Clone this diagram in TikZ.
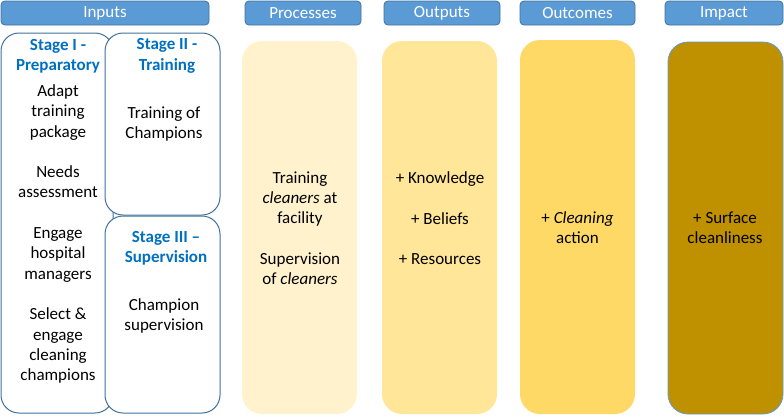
\documentclass[tikz,border=0pt]{standalone}
\usepackage{fontspec}
\setmainfont{Carlito}
\usetikzlibrary{positioning}

\definecolor{hdrblue}{HTML}{5B9BD5}
\definecolor{hdrline}{HTML}{41719C}
\definecolor{stageblue}{HTML}{0070C0}
\definecolor{procfill}{HTML}{FFF2CC}
\definecolor{outfill}{HTML}{FFE699}
\definecolor{outcfill}{HTML}{FFD966}
\definecolor{impfill}{HTML}{BF9000}

\tikzset{
  txt/.style={font=\fontsize{17}{20.3}\selectfont, align=center, text=black, inner sep=0pt},
  header/.style={txt, text=white, fill=hdrblue, draw=hdrline, line width=0.8pt,
    rounded corners=4pt, minimum height=24pt},
  stagebox/.style={draw=hdrline, fill=white, line width=1pt, rounded corners=18pt},
  column/.style={rounded corners=20pt, minimum width=115pt, minimum height=373pt},
  stagetitle/.style={txt, text=stageblue, font=\fontsize{17}{20.3}\selectfont\bfseries}
}

\begin{document}
\begin{tikzpicture}[x=1pt,y=-1pt]
        \useasboundingbox (0,0) rectangle (784,416);

        % Header bars
        \node[header, minimum width=208pt] (inputs) at (105,13) {Inputs};
        \node[header, minimum width=116pt] (processes) at (303,13) {Processes};
        \node[header, minimum width=116pt] (outputs) at (442,13) {Outputs};
        \node[header, minimum width=115pt] (outcomes) at (577.5,13) {Outcomes};
        \node[header, minimum width=118pt] (impact) at (724,13) {Impact};

        % Stage boxes for the Inputs half
        \draw[stagebox] (1,33) rectangle (113,413);
        \draw[stagebox] (105,33) rectangle (220,215);
        \draw[stagebox] (105,216) rectangle (220,413);

        % Stage I
        \node[stagetitle] (stageone) at (58,56) {Stage I -\\Preparatory};
        \node[txt] (stageonetext) at (58,234) {Adapt\\training\\package\\[20.3pt]Needs\\assessment\\[20.3pt]Engage\\hospital\\managers\\[20.3pt]Select \&\\engage\\cleaning\\champions};

        % Stage II
        \node[stagetitle] (stagetwo) at (167,56) {Stage II -\\Training};
        \node[txt] (stagetwotext) at (164,124) {Training of\\Champions};

        % Stage III
        \node[stagetitle] (stagethree) at (166,248) {Stage III --\\Supervision};
        \node[txt] (stagethreetext) at (164,316) {Champion\\supervision};

        % Columns for processes, outputs, outcomes and impact
        \node[column, fill=procfill] (procbox) at (299.5,227.5) {};
        \node[column, fill=outfill] (outbox) at (439.5,227.5) {};
        \node[column, fill=outcfill, minimum height=374pt] (outcbox) at (577.5,227) {};
        \node[column, fill=impfill, draw=hdrblue, line width=0.8pt, minimum height=372pt] (impbox) at (725.5,228) {};

        % Texts in the columns
        \node[txt] (proctext) at (300,228) {Training\\\textit{cleaners} at\\facility\\[20.3pt]Supervision\\of \textit{cleaners}};
        \node[txt] (outtext) at (440,218.5) {+ Knowledge\\[20.3pt]+ Beliefs\\[20.3pt]+ Resources};
        \node[txt] (outctext) at (577.5,228) {+ \textit{Cleaning}\\action};
        \node[txt] (imptext) at (725,228) {+ Surface\\cleanliness};
\end{tikzpicture}
\end{document}
